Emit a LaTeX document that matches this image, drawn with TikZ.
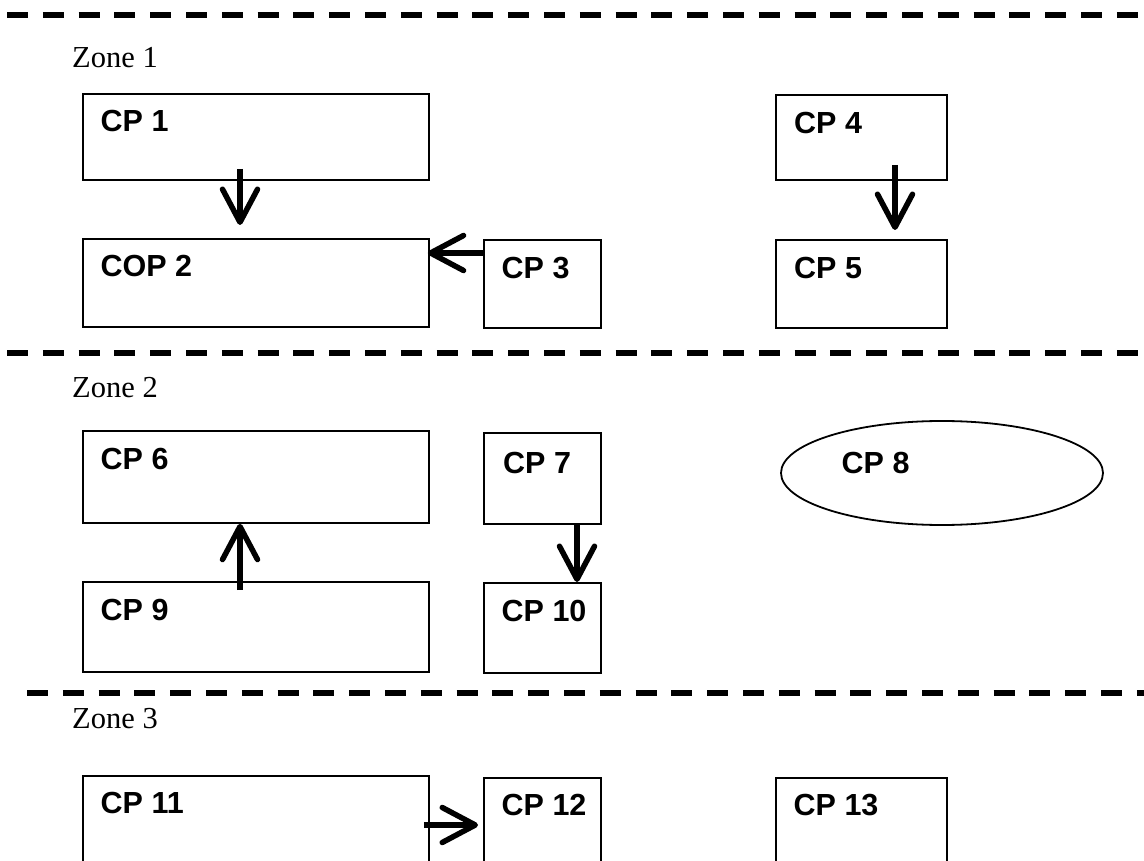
\documentclass[tikz,border=0pt]{standalone}
\usepackage{fontspec}
\setmainfont{Liberation Serif}
\newfontfamily\arialfont{Liberation Sans}
\usetikzlibrary{positioning,arrows.meta,shapes.geometric}

\tikzset{
    cpbox/.style 2 args={draw, line width=1.8pt, anchor=north west, inner sep=0pt,
        minimum width=#1, minimum height=#2},
    cptext/.style={font=\arialfont\bfseries\fontsize{30.5}{36}\selectfont, inner sep=0pt, anchor=north west},
    zonetext/.style={font=\fontsize{30.5}{36}\selectfont, inner sep=0pt, anchor=north west},
    zoneline/.style={line width=5.5pt, dash pattern=on 21pt off 14.8pt},
    arr/.style={line width=5.5pt, -{Straight Barb[length=33pt, width=35pt, round]}}
}

\begin{document}
\begin{tikzpicture}[x=1pt, y=-1pt]

    \clip (0,0) rectangle (1144,861);  % 画面大小

    % 分区虚线
    \draw[zoneline] (7,15) -- (1144,15);
    \draw[zoneline] (7,353) -- (1144,353);
    \draw[zoneline] (27,693) -- (1144,693);

    % 分区标签
    \node[zonetext] (z1) at (72,47) {Zone 1};
    \node[zonetext] (z2) at (72,377) {Zone 2};
    \node[zonetext] (z3) at (72,708) {Zone 3};

    % Zone 1 的方框
    \node[cpbox={346pt}{86pt}] (cp1) at (82,93) {};
    \node[cpbox={346pt}{88pt}] (cop2) at (82,238) {};
    \node[cpbox={117pt}{88pt}] (cp3) at (483,239) {};
    \node[cpbox={171pt}{85pt}] (cp4) at (775,94) {};
    \node[cpbox={171pt}{88pt}] (cp5) at (775,239) {};

    % Zone 2 的方框
    \node[cpbox={346pt}{92pt}] (cp6) at (82,430) {};
    \node[cpbox={117pt}{91pt}] (cp7) at (483,432) {};
    \node[draw, ellipse, line width=1.8pt, minimum width=322pt, minimum height=104pt, inner sep=0pt] (cp8) at (942,473) {};
    \node[cpbox={346pt}{90pt}] (cp9) at (82,581) {};
    \node[cpbox={117pt}{90pt}] (cp10) at (483,582) {};

    % Zone 3 的方框 (下边超出画面)
    \node[cpbox={346pt}{120pt}] (cp11) at (82,775) {};
    \node[cpbox={117pt}{120pt}] (cp12) at (483,777) {};
    \node[cpbox={171pt}{120pt}] (cp13) at (775,777) {};

    % 方框中的文字
    \node[cptext, below right=17pt and 18.5pt of cp1.north west] (t1) {CP 1};
    \node[cptext, below right=17pt and 18.5pt of cop2.north west] (t2) {COP 2};
    \node[cptext, below right=18pt and 18.5pt of cp3.north west] (t3) {CP 3};
    \node[cptext, below right=18pt and 19pt of cp4.north west] (t4) {CP 4};
    \node[cptext, below right=18pt and 19pt of cp5.north west] (t5) {CP 5};
    \node[cptext, below right=18pt and 18.5pt of cp6.north west] (t6) {CP 6};
    \node[cptext, below right=20pt and 20pt of cp7.north west] (t7) {CP 7};
    \node[cptext] (t8) at ([xshift=-100.5pt, yshift=21pt]cp8.center) {CP 8};
    \node[cptext, below right=18pt and 18.5pt of cp9.north west] (t9) {CP 9};
    \node[cptext, below right=18pt and 18.5pt of cp10.north west] (t10) {CP 10};
    \node[cptext, below right=17pt and 18.5pt of cp11.north west] (t11) {CP 11};
    \node[cptext, below right=17pt and 18.5pt of cp12.north west] (t12) {CP 12};
    \node[cptext, below right=17pt and 18.5pt of cp13.north west] (t13) {CP 13};

    % 箭头
    \draw[arr] ([xshift=158pt,yshift=12pt]cp1.south west) -- ([xshift=158pt,yshift=13pt]cop2.north west); % CP1 到 COP2
    \draw[arr] ([yshift=-14pt]cp3.north west) -- ([xshift=-2pt,yshift=-15pt]cop2.north east); % CP3 到 COP2
    \draw[arr] ([xshift=120pt,yshift=16pt]cp4.south west) -- ([xshift=120pt,yshift=9pt]cp5.north west); % CP4 到 CP5
    \draw[arr] ([xshift=158pt,yshift=-9pt]cp9.north west) -- ([xshift=158pt]cp6.south west); % CP9 到 CP6
    \draw[arr] ([xshift=94pt]cp7.south west) -- ([xshift=94pt]cp10.north west); % CP7 到 CP10
    \draw[arr] ([xshift=-6pt,yshift=-50pt]cp11.north east) -- ([xshift=-5pt,yshift=-48pt]cp12.north west); % CP11 到 CP12

\end{tikzpicture}
\end{document}
